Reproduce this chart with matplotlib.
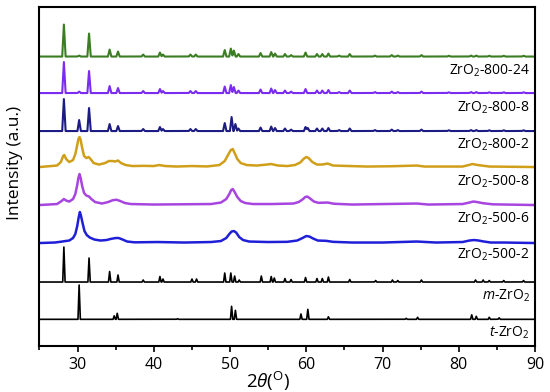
import numpy as np
import matplotlib
matplotlib.use('Agg')
import matplotlib.pyplot as plt
from matplotlib.ticker import MultipleLocator

plt.rcParams['font.family'] = ['Open Sans', 'DejaVu Sans']
plt.rcParams['mathtext.fontset'] = 'custom'
plt.rcParams['mathtext.rm'] = 'Open Sans'
plt.rcParams['mathtext.it'] = 'Open Sans:italic'

# ---- crystalline samples / references: peak tables (2theta, height a.u.)
pk_800_24 = [28.2, 30.2, 31.5, 34.2, 35.3, 38.6, 40.8, 41.2, 44.8, 45.5, 49.3, 50.1, 50.5, 51.1,
             54.0, 55.4, 55.9, 57.2, 58.0, 59.9, 61.4, 62.1, 62.9, 64.3, 65.7, 69.0, 71.2,
             72.0, 75.1, 78.7, 81.6, 82.3, 84.0, 85.9, 88.5]
h_800_24 = [32, 1, 23, 7, 5, 2, 4, 2, 2, 2, 6.5, 8, 6, 2.5,
            3.5, 4.5, 3, 2.5, 1.5, 4, 2.5, 2.5, 3, 1, 2.5, 1, 1.5,
            1, 1.5, 0.8, 1, 1, 0.8, 0.8, 0.8]

pk_800_8 = pk_800_24
h_800_8 = [31, 1.5, 22, 7, 5, 2, 4, 2, 2, 2, 6.5, 8, 6, 2.5,
           3.5, 4.5, 3, 2.5, 1.5, 4, 2.5, 2.5, 3, 1, 2.5, 1, 1.5,
           1, 1.5, 0.8, 1, 1, 0.8, 0.8, 0.8]

pk_800_2 = [28.2, 30.2, 31.5, 34.2, 35.3, 38.6, 40.8, 41.2, 44.8, 45.5, 49.3, 50.2, 50.7, 51.1,
            54.0, 55.4, 55.9, 57.2, 58.0, 59.9, 60.2, 61.4, 62.1, 62.9, 64.3, 65.7, 69.0,
            71.2, 72.0, 75.1, 78.7, 81.6, 82.3, 84.0, 85.9, 88.5]
h_800_2 = [32, 11, 23, 7, 5, 2, 4, 2, 2, 2, 8, 14, 7, 2.5,
           3.5, 4.5, 3, 2.5, 1.5, 4, 3, 2.5, 2.5, 3, 1, 2.5, 1,
           1.5, 1, 1.5, 0.8, 1, 1, 0.8, 0.8, 0.8]

pk_m = [28.2, 31.5, 34.2, 35.3, 38.6, 40.8, 41.2, 45.0, 45.6, 49.3, 50.1, 50.6, 51.2,
        54.1, 55.4, 55.8, 57.2, 58.0, 59.9, 61.4, 62.1, 62.9, 65.7, 69.1, 71.3, 72.0,
        75.1, 82.2, 83.2, 84.0, 85.9, 88.5]
h_m = [35, 24, 10.5, 7, 2, 5.5, 3, 3, 3, 9, 9, 6, 2,
       6, 5.5, 4, 3.5, 2.5, 4.5, 3.5, 3.5, 5, 2.5, 1.5, 2, 1.5,
       2, 2, 2, 1.5, 1.5, 1.5]

pk_t = [30.2, 34.8, 35.2, 43.1, 50.2, 50.7, 59.3, 60.2, 62.9, 73.1, 74.6, 81.7, 82.3, 84.0, 85.3]
h_t = [34.3, 3.5, 6, 0.6, 13, 9, 5.3, 10, 2.5, 1, 2, 4.5, 3, 2, 1.5]

# ---- nanocrystalline samples: profile points (2theta, intensity a.u.)
tt_500_8 = [25, 27.3, 27.8, 28.1, 28.25, 28.5, 28.9, 29.4, 29.7, 29.95, 30.1, 30.25, 30.4, 30.6,
            30.85, 31.15, 31.45, 31.7, 32.1, 32.8, 33.6, 34.1, 34.6, 34.9, 35.3, 35.7, 36.3,
            37.2, 38.6, 40.0, 40.7, 41.5, 43, 45, 47, 48.6, 49.3, 49.8, 50.1, 50.35, 50.6,
            50.95, 51.4, 52.2, 53.5, 54.2, 55.4, 56.3, 57.5, 58.5, 59.2, 59.7, 60.0, 60.3,
            60.8, 61.4, 62.1, 62.8, 63.5, 65.7, 68, 71.2, 74.5, 75.5, 80.5, 81.3, 81.8, 82.5,
            84, 90]
i_500_8 = [0, 1.5, 5, 11, 12, 8, 5, 7, 13, 22, 28, 30, 27, 19,
           11, 9, 10, 8, 4, 2.5, 4, 6, 6, 5.5, 6.5, 4, 2,
           1, 1.2, 1, 2, 1, 0.5, 1, 0.6, 2, 6, 13, 17, 18, 14,
           8, 4, 2, 1.5, 2, 3, 1.5, 1, 2, 4.5, 8.5, 10, 9,
           5, 2.5, 2.5, 3.5, 1.5, 1, 0.5, 0.8, 1.5, 0.5, 0.5, 2, 3, 2,
           0.5, 0]

tt_500_6 = [25, 27.3, 27.9, 28.2, 28.5, 28.9, 29.4, 29.7, 29.95, 30.1, 30.25, 30.4, 30.6, 30.85,
            31.15, 31.5, 31.8, 32.3, 33.2, 34.0, 34.6, 35.1, 35.6, 36.2, 37, 40, 47.5, 48.8,
            49.5, 49.9, 50.15, 50.35, 50.6, 50.95, 51.4, 52, 53, 55.5, 58.3, 59.0, 59.5,
            59.85, 60.15, 60.5, 61.0, 61.6, 62.8, 63.6, 66, 74.5, 76, 80.5, 81.4, 81.9,
            82.4, 83.2, 84.5, 90]
i_500_6 = [0, 1, 4, 6, 4.5, 3.5, 6, 11, 20, 27, 31, 27, 19, 12,
           9.5, 8.5, 6, 3, 1.5, 3, 4.8, 5.3, 4, 2, 1, 0.5, 1, 2.5,
           6, 11, 15, 16, 13, 8, 4, 2, 1, 1, 1.5, 3, 5.5,
           8, 8.5, 6.5, 3.5, 2.2, 2.5, 1.3, 0.5, 1.5, 0.5, 1, 2.5, 3.5,
           3, 1.8, 0.7, 0]

tt_500_2 = [25, 27, 28.0, 28.4, 28.9, 29.4, 29.7, 29.95, 30.15, 30.3, 30.45, 30.65, 30.9, 31.2,
            31.6, 32.2, 33.0, 33.8, 34.4, 35.0, 35.4, 35.9, 36.5, 37.5, 40.5, 44, 47.5, 48.8,
            49.5, 49.9, 50.2, 50.5, 50.8, 51.2, 51.7, 52.5, 55, 57.5, 58.8, 59.5, 60.0, 60.4,
            60.9, 61.5, 62.6, 63.5, 66, 70, 74.5, 77, 80.5, 81.4, 82.0, 82.6, 83.3, 84.2,
            86, 90]
i_500_2 = [0, 0.5, 1.5, 2, 2.5, 5, 9, 17, 26, 31, 27, 20, 12, 8,
           5.5, 3.5, 2.5, 3, 4.2, 5, 5, 3.5, 1.5, 0.7, 1, 0.5, 1, 2,
           5, 9, 11.5, 12, 10.5, 6, 3, 1.5, 1, 1.2, 2.5, 5, 7, 6.5,
           4.5, 2.5, 2.2, 1.2, 0.5, 0.5, 1.5, 0.5, 1, 2.5, 3, 2.5, 1.5, 0.5,
           0.5, 0]

labels = ['ZrO$_2$-800-24', 'ZrO$_2$-800-8', 'ZrO$_2$-800-2', 'ZrO$_2$-500-8',
          'ZrO$_2$-500-6', 'ZrO$_2$-500-2', '$\\mathit{m}$-ZrO$_2$', '$\\mathit{t}$-ZrO$_2$']
colors = ['#3b7d23', '#7b2cf0', '#1c1c84', '#d09f1a', '#a845e0', '#1f1fd8', 'black', 'black']
offsets = [289.5, 253, 215, 179, 141, 103, 64, 26.7]
label_y = [275, 238, 201.7, 164.3, 127.7, 91, 50, 13.3]

grid = np.arange(25, 90.001, 0.01)


def peaks_to_line(pos, hts, w):
    y = np.zeros_like(grid)
    for p, h in zip(pos, hts):
        y += np.interp(grid, [p - w, p, p + w], [0, h, 0])
    return grid, y


series = [
    peaks_to_line(pk_800_24, h_800_24, 0.22),
    peaks_to_line(pk_800_8, h_800_8, 0.22),
    peaks_to_line(pk_800_2, h_800_2, 0.22),
    (np.array(tt_500_8), np.array(i_500_8)),
    (np.array(tt_500_6), np.array(i_500_6)),
    (np.array(tt_500_2), np.array(i_500_2)),
    peaks_to_line(pk_m, h_m, 0.15),
    peaks_to_line(pk_t, h_t, 0.15),
]
widths = [1.5, 1.5, 1.5, 1.8, 1.8, 1.8, 1.2, 1.2]

fig = plt.figure(figsize=(5.5, 3.92), dpi=100)
ax = fig.add_axes([0.0718, 0.1173, 0.9009, 0.8647])

for (x, y), c, off, lw in zip(series, colors, offsets, widths):
    ax.plot(x, y + off, color=c, lw=lw)

for lab, ly in zip(labels, label_y):
    ax.text(89.3, ly, lab, ha='right', va='center', fontsize=10)

ax.set_xlim(25, 90)
ax.set_ylim(0, 339)
ax.xaxis.set_major_locator(MultipleLocator(10))
ax.xaxis.set_minor_locator(MultipleLocator(5))
ax.tick_params(axis='x', which='major', direction='out', length=4, width=1.2, labelsize=11.5, pad=4)
ax.tick_params(axis='x', which='minor', direction='out', length=3, width=1.2)
ax.set_yticks([])
for s in ax.spines.values():
    s.set_linewidth(1.5)

ax.set_ylabel('Intensity (a.u.)', fontsize=12.5)
ax.yaxis.set_label_coords(-0.034, 0.54)
ax.set_xlabel('2$\\theta$($^{\\rm O}$)', fontsize=13.5)
ax.xaxis.set_label_coords(0.461, -0.07)

fig.savefig('out.png', dpi=100)
